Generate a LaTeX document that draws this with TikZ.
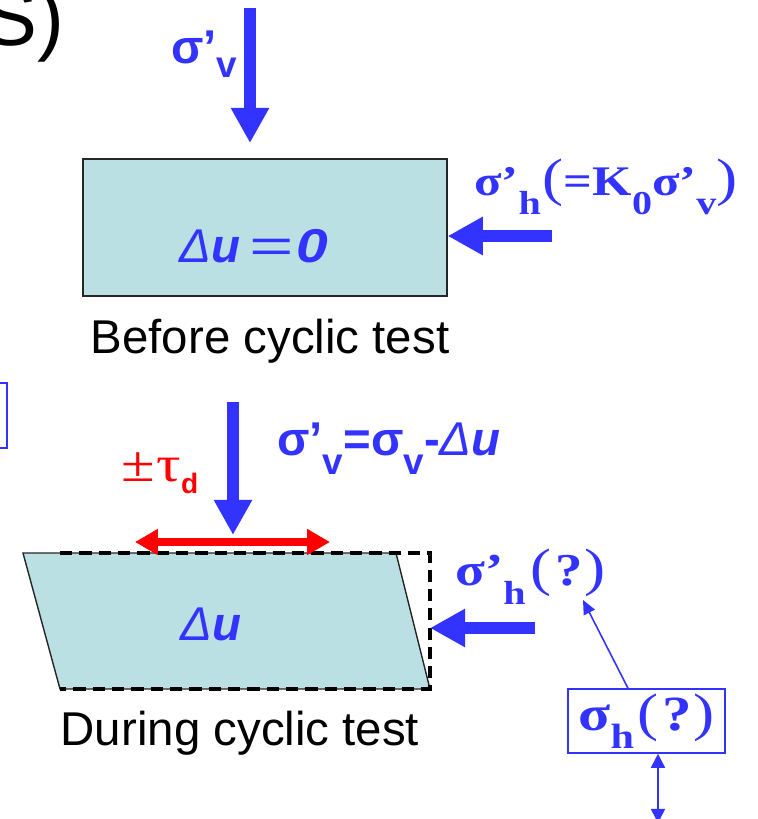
\documentclass[tikz,border=0pt]{standalone}
\usepackage{fontspec}
\setmainfont{Liberation Sans}
\newfontfamily\timesf{Liberation Serif}[FakeStretch=1.2]
\usetikzlibrary{arrows.meta, positioning}
\definecolor{lblue}{RGB}{51,51,255}
\definecolor{soilfill}{RGB}{186,224,227}
\newcommand\lowsub[3]{\raisebox{-#1}{\fontsize{#2}{#2}\selectfont #3}}
\newcommand\bigpar[1]{{\mdseries\fontsize{30}{30}\selectfont #1}}

\begin{document}
\begin{tikzpicture}[x=0.02cm, y=-0.02cm,
  soil/.style={draw=black!85, fill=soilfill, line width=0.8pt},
  force/.style={draw=lblue, line width=6.5pt, -{Triangle[length=20pt, width=20.5pt]}},
  shear/.style={draw=red, line width=5pt, {Triangle[length=13pt, width=14pt]}-{Triangle[length=13pt, width=14pt]}},
  thinarr/.style={draw=lblue, line width=0.9pt, -{Triangle[length=8pt, width=7pt]}},
  dblarr/.style={draw=lblue, line width=0.9pt, {Triangle[length=8pt, width=8pt]}-{Triangle[length=8pt, width=8pt]}},
  lbl/.style={inner sep=0pt, text=lblue, font=\fontsize{27}{30}\selectfont\bfseries},
  serlbl/.style={inner sep=0pt, text=lblue, font=\timesf\fontsize{24}{28}\selectfont\bfseries},
  caption/.style={inner sep=0pt, font=\fontsize{27}{30}\selectfont}
]
  \useasboundingbox (0,0) rectangle (758,819);

  \node[caption, font=\fontsize{46}{46}\selectfont, anchor=base east] (sfrag) at (65,45) {S)};
  \node[draw=lblue, line width=1.2pt, minimum width=4cm, minimum height=1.3cm] (sidebox) at (-93,415.5) {};

  \coordinate (vtop) at (250,8);
  \coordinate (vtip) at (250,143);
  \draw[force] (vtop) -- (vtip);
  \node[lbl, anchor=base west] (sv1) at (171,63) {σ’\lowsub{8pt}{21}{v}};

  \node[soil, minimum width=7.28cm, minimum height=2.74cm, inner sep=0pt] (box) at (265,227.5) {};
  \node[lbl, anchor=base west] (du0) at (179,262)
    {\itshape{\mdseries Δ}u{\mdseries\hspace{5pt}\scalebox{1.6}[1]{=}\hspace{2pt}}\scalebox{1.2}[1]{0}};
  \coordinate (htail) at (552,236);
  \draw[force] (htail) -- (htail -| box.east);
  \node[serlbl, anchor=base west] (sh0) at (474,195)
    {σ’\lowsub{11pt}{19}{h}\hspace{1pt}\bigpar{(}=K\lowsub{11pt}{19}{0}σ’\lowsub{11pt}{19}{v}\bigpar{)}};
  \node[caption, anchor=base] (before) at (270,353) {Before cyclic test};

  \coordinate (v2top) at (233,402);
  \coordinate (v2tip) at (233,535);
  \draw[force] (v2top) -- (v2tip);
  \node[lbl, anchor=base west] (sv2) at (277,455)
    {σ’\lowsub{11pt}{21}{v}=σ\lowsub{11pt}{21}{v}-{\itshape{\mdseries Δ}u}};
  \node[inner sep=0pt, text=red, anchor=base west] (tau) at (121,481)
    {\timesf\fontsize{29}{29}\selectfont ±\hspace{1pt}τ\lowsub{7pt}{16}{\normalfont\bfseries d}};

  \coordinate (p1) at (23,553);
  \coordinate (p2) at (396,553);
  \coordinate (p3) at (430,689);
  \coordinate (p4) at (60,689);
  \draw[soil] (p1) -- (p2) -- (p3) -- (p4) -- cycle;
  \draw[line width=2pt, dash pattern=on 7pt off 4pt] (p4 |- p1) -- (p3 |- p1) -- (p3) -- (p4);
  \coordinate (tl) at (135,542);
  \coordinate (tr) at (330,542);
  \draw[shear] (tl) -- (tr);
  \node[lbl, anchor=base west] (du) at (180,640) {\itshape{\mdseries Δ}u};
  \coordinate (h2tail) at (535,628);
  \draw[force] (h2tail) -- (h2tail -| p3);
  \node[serlbl, font=\timesf\fontsize{26}{28}\selectfont\bfseries, anchor=base west] (sh1) at (455,585)
    {σ’\lowsub{11pt}{19}{h}\hspace{3pt}\bigpar{(}\hspace{2pt}?\hspace{1pt}\bigpar{)}};
  \node[caption, anchor=base] (during) at (240,745) {During cyclic test};

  \node[draw=lblue, line width=0.9pt, minimum width=3.14cm, minimum height=1.28cm, inner sep=0pt,
        text=lblue, font=\timesf\bfseries\fontsize{28}{28}\selectfont] (shbox) at (646.5,721)
    {σ\lowsub{10pt}{20}{h}\hspace{2pt}\bigpar{(}\hspace{2pt}?\hspace{1pt}\bigpar{)}};
  \coordinate (qtip) at (583,600);
  \draw[thinarr] ([xshift=-0.37cm]shbox.north) -- (qtip);
  \coordinate (qbot) at (658,823);
  \draw[dblarr] (qbot) -- (qbot |- shbox.south);
\end{tikzpicture}
\end{document}
